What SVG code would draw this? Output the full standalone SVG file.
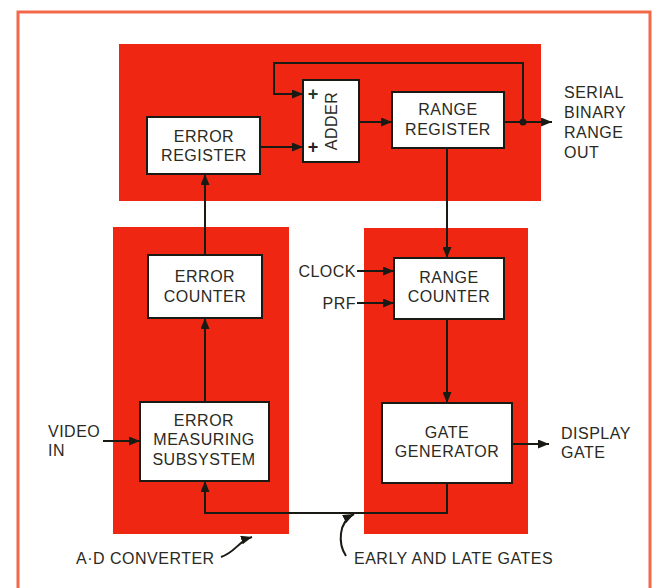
<svg xmlns="http://www.w3.org/2000/svg" width="657" height="588" viewBox="0 0 657 588">
<defs>
<marker id="ah" viewBox="0 0 11 9" refX="11" refY="4.5" markerWidth="11" markerHeight="9" markerUnits="userSpaceOnUse" orient="auto">
<path d="M0,0 L11,4.5 L0,9 Z" fill="#1a1a14"/>
</marker>
<style>
.red{fill:#ef2612}
.box{fill:#fff;stroke:#1a1a14;stroke-width:2}
.t{font-family:"Liberation Sans",Arial,sans-serif;font-size:16px;fill:#2a2a1e;text-anchor:middle;letter-spacing:0.5px}
.l{font-family:"Liberation Sans",Arial,sans-serif;font-size:16px;fill:#2a2a1e;letter-spacing:0.5px}
.p{font-family:"Liberation Sans",Arial,sans-serif;font-size:18px;font-weight:bold;text-anchor:middle}
.a{fill:none;stroke:#1a1a14;stroke-width:2;marker-end:url(#ah)}
</style>
</defs>
<rect width="657" height="588" fill="#fff"/>
<path d="M18,590 L18,12 L650,12 L650,590" fill="none" stroke="#f2694a" stroke-width="3"/>
<rect class="red" x="119" y="44" width="422" height="157"/>
<rect class="red" x="113" y="227" width="176" height="307"/>
<rect class="red" x="364" y="228" width="164" height="306"/>

<g id="connectors">
<path class="a" d="M523,122 L523,63 L274,63 L274,94 L303,94"/>
<path class="a" d="M260,147 L303,147"/>
<path class="a" d="M359,122 L392,122"/>
<path class="a" d="M504,122 L552,122"/>
<circle cx="523" cy="122" r="3.5" fill="#1a1a14"/>
<path class="a" d="M205,255 L205,174"/>
<path class="a" d="M205,402 L205,318"/>
<path class="a" d="M447,148 L447,258"/>
<path class="a" d="M357,271 L394,271"/>
<path class="a" d="M357,303 L394,303"/>
<path class="a" d="M447,319 L447,403"/>
<path class="a" d="M103,441 L140,441"/>
<path class="a" d="M512,444 L549,444"/>
<path class="a" d="M447,483 L447,513 L205,513 L205,481"/>
<path class="a" d="M221,557 C236,552 238,541 252,537"/>
<path class="a" d="M346,556 C338,544 338,522 354,514"/>
</g>

<g id="error-register">
<rect class="box" x="147" y="117" width="113" height="57"/>
<text class="t" x="204" y="142">ERROR</text>
<text class="t" x="204" y="161">REGISTER</text>
</g>
<g id="adder">
<rect class="box" x="303" y="80" width="56" height="82"/>
<text class="t" transform="translate(337,121) rotate(-90)">ADDER</text>
<text class="p" x="313" y="100" style="fill:#1d3a2a">+</text>
<text class="p" x="313" y="153" style="fill:#2a1a24">+</text>
</g>
<g id="range-register">
<rect class="box" x="392" y="92" width="112" height="56"/>
<text class="t" x="448" y="115">RANGE</text>
<text class="t" x="448" y="135">REGISTER</text>
</g>
<g id="error-counter">
<rect class="box" x="148" y="255" width="114" height="63"/>
<text class="t" x="205" y="282">ERROR</text>
<text class="t" x="205" y="302">COUNTER</text>
</g>
<g id="range-counter">
<rect class="box" x="394" y="258" width="110" height="61"/>
<text class="t" x="449" y="283">RANGE</text>
<text class="t" x="449" y="302">COUNTER</text>
</g>
<g id="error-measuring">
<rect class="box" x="140" y="402" width="129" height="79"/>
<text class="t" x="204" y="426">ERROR</text>
<text class="t" x="204" y="445">MEASURING</text>
<text class="t" x="204" y="465">SUBSYSTEM</text>
</g>
<g id="gate-generator">
<rect class="box" x="382" y="403" width="130" height="80"/>
<text class="t" x="447" y="438">GATE</text>
<text class="t" x="447" y="457">GENERATOR</text>
</g>

<g id="labels">
<text class="l" x="564" y="98">SERIAL</text>
<text class="l" x="564" y="118">BINARY</text>
<text class="l" x="564" y="138">RANGE</text>
<text class="l" x="564" y="158">OUT</text>
<text class="l" x="356" y="277" text-anchor="end">CLOCK</text>
<text class="l" x="356" y="309" text-anchor="end">PRF</text>
<text class="l" x="48" y="437">VIDEO</text>
<text class="l" x="48" y="456">IN</text>
<text class="l" x="561" y="439">DISPLAY</text>
<text class="l" x="561" y="458">GATE</text>
<text class="l" x="76" y="564">A·D CONVERTER</text>
<text class="l" x="354" y="564">EARLY AND LATE GATES</text>
</g>
</svg>
